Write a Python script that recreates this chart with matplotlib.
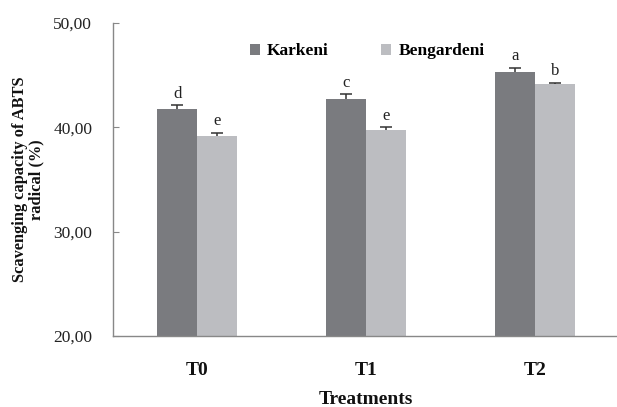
import matplotlib
matplotlib.use("Agg")
import matplotlib.pyplot as plt
import numpy as np
from matplotlib.ticker import FuncFormatter

categories = ["T0", "T1", "T2"]
series_names = ["Karkeni", "Bengardeni"]
karkeni = [41.75, 42.75, 45.30]
bengardeni = [39.15, 39.75, 44.15]
karkeni_err = [0.35, 0.40, 0.40]
bengardeni_err = [0.30, 0.25, 0.12]
karkeni_letters = ["d", "c", "a"]
bengardeni_letters = ["e", "e", "b"]
yticks = [20, 30, 40, 50]

plt.rcParams['font.family'] = ['Liberation Serif', 'DejaVu Serif']

fig = plt.figure(figsize=(6.17, 4.07), dpi=100)
ax = fig.add_axes([113/617, 1-336/407, (616-113)/617, (336-23)/407])

x = np.arange(len(categories))
w = 0.237
c1, c2 = "#7a7b7f", "#bcbdc1"
ecol = "#333333"
ax.bar(x - w/2, karkeni, w, color=c1, label=series_names[0], zorder=2)
ax.bar(x + w/2, bengardeni, w, color=c2, label=series_names[1], zorder=2)
ax.errorbar(x - w/2, karkeni, yerr=karkeni_err, fmt='none',
            ecolor=ecol, capsize=4, elinewidth=1.1, capthick=1.1, zorder=1)
ax.errorbar(x + w/2, bengardeni, yerr=bengardeni_err, fmt='none',
            ecolor=ecol, capsize=4, elinewidth=1.1, capthick=1.1, zorder=1)

for i in range(3):
    ax.text(x[i] - w/2, karkeni[i] + karkeni_err[i] + 0.35, karkeni_letters[i],
            ha='center', va='bottom', fontsize=12, color='#222222')
    ax.text(x[i] + w/2, bengardeni[i] + bengardeni_err[i] + 0.35, bengardeni_letters[i],
            ha='center', va='bottom', fontsize=12, color='#222222')

ax.set_ylim(20, 50)
ax.set_xlim(-0.5, (616-197)/169)
ax.set_yticks(yticks)
ax.yaxis.set_major_formatter(FuncFormatter(lambda v, p: f"{v:.2f}".replace('.', ',')))
ax.set_xticks(x)
ax.set_xticklabels(categories, fontweight='bold', fontsize=14)
ax.tick_params(axis='x', length=0, pad=19, colors='#111111')
ax.tick_params(axis='y', direction='in', length=4, pad=15, labelsize=12.5,
               color='#888888', labelcolor='#222222')
for s in ['top', 'right']:
    ax.spines[s].set_visible(False)
for s in ['left', 'bottom']:
    ax.spines[s].set_color('#888888')
    ax.spines[s].set_linewidth(1)

fig.text(366/617, 1-399/407, "Treatments", fontweight='bold', fontsize=14,
         ha='center', va='center', color='#111111')
ax.set_ylabel("Scavenging capacity of ABTS\nradical (%)", fontweight='bold',
              fontsize=11.8, labelpad=6, color='#111111', linespacing=1.1)

leg = ax.legend(loc='upper center', bbox_to_anchor=(0.505, 0.985), ncol=2, frameon=False,
                prop={'weight': 'bold', 'size': 12.5}, handlelength=0.6, handleheight=0.6,
                columnspacing=3.0, handletextpad=0.4)

fig.savefig("out.png", dpi=100)
